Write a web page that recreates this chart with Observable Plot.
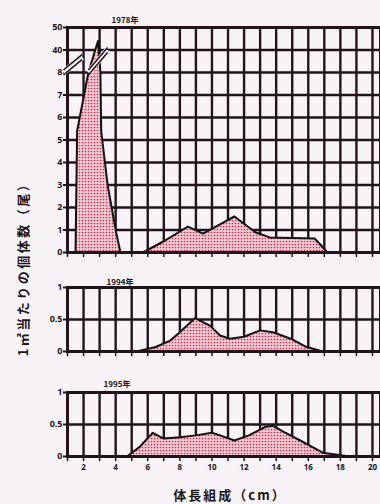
<!DOCTYPE html>
<html><head><meta charset="utf-8">
<script src="https://cdn.jsdelivr.net/npm/d3@7"></script>
<script src="https://cdn.jsdelivr.net/npm/@observablehq/plot@0.6"></script>
<style>
html,body{margin:0;padding:0;background:#f8f3f7;}
#wrap{position:relative;width:380px;height:504px;overflow:hidden;font-family:"Noto Sans CJK JP",sans-serif;color:#1b1418;}
.panel{position:absolute;left:0;}
.yr{position:absolute;font-size:8px;font-weight:bold;transform:translateX(-50%);line-height:1;}
#ylab{position:absolute;left:22px;top:266px;transform:translate(-50%,-50%) rotate(-90deg);white-space:nowrap;font-size:13px;font-weight:bold;letter-spacing:2.5px;}
#xlab{position:absolute;left:230px;top:494px;transform:translate(-50%,-50%);white-space:nowrap;font-size:13px;font-weight:bold;letter-spacing:2px;}
</style></head><body><div id="wrap"></div>
<script>
// ---- data ----
const years = ["1978年", "1994年", "1995年"];
const xTicks = [1,2,3,4,5,6,7,8,9,10,11,12,13,14,15,16,17,18,19,20];
const xLabelTicks = [2,4,6,8,10,12,14,16,18,20];

const sizes1978  = [1.5, 1.6, 2.3, 2.9, 3.05, 3.1, 3.5, 4.0, 4.3, 5.7, 7.0, 8.5, 9.45, 10.5, 11.4, 12.7, 13.6, 15.0, 16.4, 17.2];
const counts1978 = [0,   5.4, 8,   44,  8,    5.4, 3,   1,   0,   0,   0.5, 1.15, 0.84, 1.25, 1.6,  0.9,  0.67, 0.64, 0.62, 0];

const sizes1994  = [5.3, 6.5, 7.4, 8.0, 8.6, 8.95, 9.9, 10.5, 11.1, 12.0, 13.0, 13.8, 14.9, 15.9, 16.9];
const counts1994 = [0,   0.07, 0.17, 0.3, 0.44, 0.52, 0.4, 0.25, 0.2, 0.23, 0.33, 0.3, 0.2, 0.07, 0];

const sizes1995  = [4.7, 5.5, 6.3, 7.0, 8.0, 9.0, 10.0, 10.5, 11.4, 12.3, 13.3, 13.8, 14.5, 15.5, 16.9, 18.6];
const counts1995 = [0,   0.15, 0.37, 0.28, 0.3, 0.33, 0.37, 0.33, 0.25, 0.33, 0.46, 0.48, 0.38, 0.25, 0.06, 0];

const topTicks = [0,1,2,3,4,5,6,7,8,40,50];
const smallTicks = [0, 0.5, 1];
const smallLabels = ["0", "0.5", "1"];

// axis break marks on the top panel (cm, count)
const breakX1 = [0.75, 2.3];
const breakV1 = [8, 8];
const breakX2 = [1.9, 3.5];
const breakV2 = [30, 40];

// ---- broken-axis transform for top panel ----
const brokenT = v => v <= 8 ? v : v <= 40 ? 8 + (v - 8) / 32 : 9 + (v - 40) / 10;
const identT = v => v;

const INK = "#23141c";
let pid = 0;
function panel({sizes, counts, T, ticks, labels, yMax, height, marginTop, marginBottom, showX, breaks}) {
  const data = sizes.map((s, i) => ({x: s, y: T(counts[i])}));
  const tPos = ticks.map(T);
  const lab = new Map(tPos.map((t, i) => [t, labels[i]]));
  const id = "dots" + (pid++);
  const marks = [
    Plot.ruleX(xTicks, {stroke: INK, strokeWidth: 2.4}),
    Plot.ruleY(tPos, {stroke: INK, strokeWidth: 2.4}),
    Plot.areaY(data, {x: "x", y: "y", fill: `url(#${id})`}),
    Plot.lineY(data, {x: "x", y: "y", stroke: "#111", strokeWidth: 2}),
    Plot.frame({stroke: INK, strokeWidth: 3}),
    Plot.axisY(tPos, {label: null, tickSize: 4, tickPadding: 1, tickFormat: d => lab.get(d), stroke: INK, strokeWidth: 2, fontSize: 9, fontWeight: "bold"}),
    Plot.axisX(xTicks, {label: null, tickSize: 5, tickPadding: 3, stroke: INK, strokeWidth: 1.5, fontSize: 8, fontWeight: "bold",
      tickFormat: d => (showX && xLabelTicks.includes(d)) ? String(d) : ""})
  ];
  if (breaks) {
    const bl = breakX1.map((x, i) => ({x1: x, y1: T(breakV1[i]), x2: breakX2[i], y2: T(breakV2[i])}));
    marks.push(Plot.link(bl, {x1: "x1", y1: "y1", x2: "x2", y2: "y2", stroke: "#fbf7fa", strokeWidth: 6}));
    marks.push(Plot.link(bl, {x1: "x1", y1: "y1", x2: "x2", y2: "y2", stroke: INK, strokeWidth: 1.6, dy: -2.5}));
    marks.push(Plot.link(bl, {x1: "x1", y1: "y1", x2: "x2", y2: "y2", stroke: INK, strokeWidth: 1.6, dy: 2.5}));
  }
  const svg = Plot.plot({
    width: 380, height, marginLeft: 67, marginRight: 0, marginTop, marginBottom,
    style: {background: "transparent", color: INK, overflow: "visible"},
    x: {domain: [1, 20.5], axis: null},
    y: {domain: [0, yMax], axis: null},
    marks
  });
  const defs = d3.select(svg).insert("defs", ":first-child");
  const p = defs.append("pattern").attr("id", id).attr("width", 3).attr("height", 3).attr("patternUnits", "userSpaceOnUse");
  p.append("rect").attr("width", 3).attr("height", 3).attr("fill", "#f3cdd6");
  p.append("circle").attr("cx", 1.5).attr("cy", 1.5).attr("r", 0.85).attr("fill", "#cc2c4c");
  return svg;
}

const wrap = document.getElementById("wrap");
function place(el, top) { el.classList.add("panel"); el.style.top = top + "px"; wrap.appendChild(el); }

place(panel({sizes: sizes1978, counts: counts1978, T: brokenT, ticks: topTicks, labels: topTicks.map(String), yMax: 10,
  height: 262, marginTop: 27, marginBottom: 10, showX: false, breaks: true}), 0);
place(panel({sizes: sizes1994, counts: counts1994, T: identT, ticks: smallTicks, labels: smallLabels, yMax: 1,
  height: 89, marginTop: 15, marginBottom: 10, showX: false}), 272);
place(panel({sizes: sizes1995, counts: counts1995, T: identT, ticks: smallTicks, labels: smallLabels, yMax: 1,
  height: 101, marginTop: 15, marginBottom: 22, showX: true}), 377);

const yrPos = [[125, 16], [120, 278], [117, 380]];
years.forEach((y, i) => {
  const d = document.createElement("div");
  d.className = "yr"; d.textContent = y;
  d.style.left = yrPos[i][0] + "px"; d.style.top = yrPos[i][1] + "px";
  wrap.appendChild(d);
});
const yl = document.createElement("div"); yl.id = "ylab"; yl.textContent = "1㎡当たりの個体数（尾）"; wrap.appendChild(yl);
const xl = document.createElement("div"); xl.id = "xlab"; xl.textContent = "体長組成（cm）"; wrap.appendChild(xl);
</script></body></html>
